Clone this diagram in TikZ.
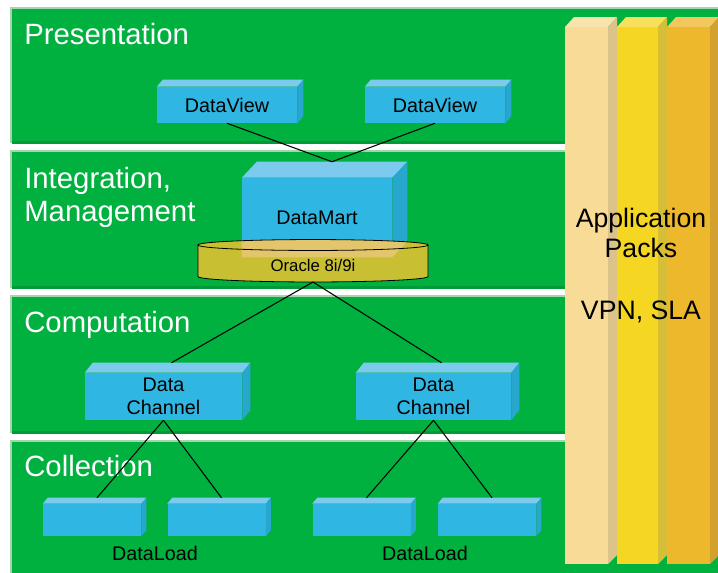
\documentclass[tikz,border=0pt]{standalone}
\usepackage{fontspec}
\setmainfont{Liberation Sans}
\usepackage{tikz}
\usetikzlibrary{calc}

\definecolor{layer}{HTML}{00B140}
\definecolor{layerlight}{HTML}{A3D6AB}
\definecolor{layerdark}{HTML}{009A38}
\definecolor{boxfront}{HTML}{30B6E2}
\definecolor{boxtop}{HTML}{7CCBEE}
\definecolor{boxside}{HTML}{27A7CE}
\definecolor{drumbody}{HTML}{C9BF33}
\definecolor{drumlit}{HTML}{E3C66C}
\definecolor{packAfront}{HTML}{F7DB96}
\definecolor{packAtop}{HTML}{F8E3AA}
\definecolor{packAside}{HTML}{DCC38A}
\definecolor{packBfront}{HTML}{F5D623}
\definecolor{packBtop}{HTML}{F8DF5C}
\definecolor{packBside}{HTML}{D6BE36}
\definecolor{packCfront}{HTML}{EDB82B}
\definecolor{packCtop}{HTML}{F3C75C}
\definecolor{packCside}{HTML}{D3A22E}

\tikzset{
  slabfront/.style={fill=boxfront, inner sep=0pt, align=center,
    font=\fontsize{14.8}{17.25}\selectfont},
  layername/.style={text=white, anchor=base west, inner sep=0pt,
    font=\fontsize{22}{26}\selectfont},
  packname/.style={anchor=base, inner sep=0pt, font=\fontsize{20}{24}\selectfont},
  link/.style={line width=0.8pt}
}

% one green band: top and bottom edge
\newcommand{\layerband}[2]{\fill[layerlight] (10, #1) rectangle (718, #2);
    \fill[layer] (12, #1 + 2) rectangle (718, #2);
    \fill[layerdark] (12, #2 - 2) rectangle (718, #2 + 1);}

% upright column: left, right, colour prefix
\newcommand{\packcolumn}[3]{\fill[#3front] (#1, 27) rectangle (#2, 564);
    \fill[#3top] (#1, 27) -- (#1 + 9, 17) -- (#2 + 9, 17) -- (#2, 27) -- cycle;
    \fill[#3side] (#2, 27) -- (#2 + 9, 17) -- (#2 + 9, 555) -- (#2, 564) -- cycle;}

% flat 3d box: name, centre, width, height, depth, text
\newcommand{\slab}[6]{\node[slabfront, minimum width=#3*0.75pt, minimum height=#4*0.75pt] (#1) at (#2) {#6};
    \fill[boxtop] (#1.north west) -- ++(#5) -- ($(#1.north east)+(#5)$) -- (#1.north east) -- cycle;
    \fill[boxside] (#1.north east) -- ++(#5) -- ($(#1.south east)+(#5)$) -- (#1.south east) -- cycle;
    \coordinate (#1-top) at ($(#1.north)+(#5)$);}

\newcommand{\drumoutline}{(198, 245) -- (198, 276.5)
    arc[start angle=180, end angle=360, x radius=86.25pt, y radius=4.1pt] -- (428, 245)}

\begin{document}
\begin{tikzpicture}[x=0.75pt, y=-0.75pt]
    \useasboundingbox (0, 0) rectangle (718, 572);
    \fill[white] (0, 0) rectangle (718, 572);

    \layerband{7}{143}
    \layerband{150}{288}
    \layerband{295}{433}
    \layerband{440}{575}

    \packcolumn{565}{608}{packA}
    \packcolumn{617}{658}{packB}
    \packcolumn{667}{710}{packC}

    \node[layername] (l-pres) at (24, 44) {Presentation};
    \node[layername] (l-integ) at (24, 188) {Integration,};
    \node[layername] (l-mgmt) at (24, 221) {Management};
    \node[layername] (l-comp) at (24, 332) {Computation};
    \node[layername] (l-coll) at (24, 476) {Collection};

    \node[packname] (p-app) at (641, 227) {Application};
    \node[packname] (p-packs) at (641, 257) {Packs};
    \node[packname] (p-vpn) at (641, 319) {VPN, SLA};

    \slab{dv1}{227, 105}{140}{36}{6,-7}{DataView}
    \slab{dv2}{435, 105}{140}{36}{6,-7}{DataView}
    \slab{dm}{317, 217.5}{150}{79}{15,-16}{DataMart}

    % database drum under the mart, the mart shows through it
    \fill[drumbody] \drumoutline
        arc[start angle=0, end angle=180, x radius=86.25pt, y radius=4.1pt] -- cycle;
    \begin{scope}
        \clip \drumoutline arc[start angle=0, end angle=180, x radius=86.25pt, y radius=4.1pt] -- cycle;
        \fill[drumlit] (dm.north west) -- (dm.south west) -- (dm.south east)
            -- ($(dm.south east)+(15,-16)$) -- ($(dm.north east)+(15,-16)$) -- cycle;
    \end{scope}
    \draw[line width=0.6pt] \drumoutline;
    \draw[line width=0.6pt] (313, 245) ellipse[x radius=86.25pt, y radius=4.1pt];
    \node[inner sep=0pt, font=\fontsize{12.6}{15}\selectfont] (ora) at (313, 265) {Oracle 8i/9i};
    \coordinate (ora-base) at (313, 282);

    \slab{dc1}{163.5, 396.5}{157}{47}{8,-10}{Data\\Channel}
    \slab{dc2}{433.5, 396.5}{155}{47}{8,-10}{Data\\Channel}

    \slab{dl1}{92, 520}{98}{32}{5,-6}{}
    \slab{dl2}{216.5, 520}{98}{32}{5,-6}{}
    \slab{dl3}{361.5, 520}{98}{32}{5,-6}{}
    \slab{dl4}{487, 520}{98}{32}{5,-6}{}
    \node[inner sep=0pt, font=\fontsize{14.8}{17}\selectfont] (load1) at (155, 553) {DataLoad};
    \node[inner sep=0pt, font=\fontsize{14.8}{17}\selectfont] (load2) at (425, 553) {DataLoad};

    \draw[link] (dv1.south) -- (dm-top);
    \draw[link] (dv2.south) -- (dm-top);
    \draw[link] (ora-base) -- (dc1-top);
    \draw[link] (ora-base) -- (dc2-top);
    \draw[link] (dc1.south) -- (dl1-top);
    \draw[link] (dc1.south) -- (dl2-top);
    \draw[link] (dc2.south) -- (dl3-top);
    \draw[link] (dc2.south) -- (dl4-top);
\end{tikzpicture}
\end{document}
